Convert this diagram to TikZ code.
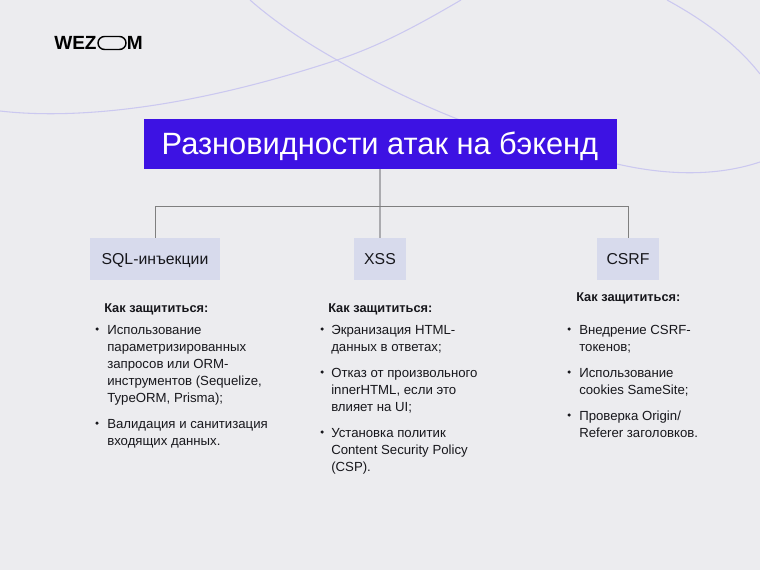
\documentclass[tikz,border=0pt]{standalone}
\usepackage{xcolor}
\usepackage{fontspec}
\setmainfont{Liberation Sans}
\usetikzlibrary{positioning}
\definecolor{bgfill}{HTML}{ECECEF}
\definecolor{titlefill}{HTML}{3D12E3}
\definecolor{boxfill}{HTML}{D7DAEC}
\definecolor{arcline}{HTML}{CBC8F0}
\definecolor{linkline}{HTML}{7F7F7F}
\definecolor{stemline}{HTML}{ABABAF}
\definecolor{inkcol}{HTML}{17171C}
\newlength{\ppx}
\setlength{\ppx}{0.75pt}
\tikzset{
	titlebox/.style={fill=titlefill,text=white,minimum width=473\ppx,minimum height=50\ppx,inner sep=0pt,text height=16.5pt,text depth=0pt,font=\fontsize{23.1}{27}\selectfont},
	kindbox/.style={fill=boxfill,text=inkcol,minimum height=42\ppx,inner sep=0pt,text height=8.5pt,text depth=0pt,font=\fontsize{11.85}{14}\selectfont},
	headtext/.style={text=inkcol,anchor=west,inner sep=0pt,font=\fontsize{9.6}{12}\selectfont\bfseries},
	itemtext/.style={text=inkcol,anchor=north west,inner sep=0pt,align=left,font=\fontsize{9.9}{12.75}\selectfont},
	dotmark/.style={circle,fill=inkcol,inner sep=0pt,minimum size=3.5\ppx},
	logotext/.style={text=black,inner sep=0pt,font=\fontsize{14.3}{15}\selectfont\bfseries},
	arcpath/.style={draw=arcline,line width=0.8pt},
	linkpath/.style={draw=linkline,line width=0.6pt},
	stempath/.style={draw=stemline,line width=1pt}
}
\begin{document}
\begin{tikzpicture}[x=0.75pt,y=-0.75pt]
	\path[fill=bgfill] (0,0) rectangle (760,570);
	\useasboundingbox (0,0) rectangle (760,570);

	\path[arcpath] (0,111) .. controls (60,118) and (170,115) .. (337,60) .. controls (380,46) and (420,24) .. (461,0);
	\path[arcpath] (250,0) .. controls (275,22) and (305,42) .. (337,60) .. controls (395,95) and (500,145) .. (617,164) .. controls (665,175) and (715,177) .. (760,162);
	\path[arcpath] (667,0) .. controls (700,18) and (735,42) .. (760,74);

	% logo
	\node[logotext,anchor=west] (logowez) at (54,43) {WEZ};
	\node[draw=black,line width=1.1pt,rounded corners=6.5\ppx,minimum width=28\ppx,minimum height=13\ppx,inner sep=0pt] (logoring) at (112,43) {};
	\node[logotext,anchor=east] (logom) at (143,43) {M};

	\node[titlebox] (title) at (380,144) {Разновидности атак на бэкенд};
	\node[kindbox,minimum width=130\ppx] (sql) at (155,259) {SQL-инъекции};
	\node[kindbox,minimum width=52\ppx] (xss) at (380,259) {XSS};
	\node[kindbox,minimum width=62\ppx] (csrf) at (628,259) {CSRF};
	\coordinate (fork) at (380,206);

	\path[stempath] (title.south) -- (xss.north);
	\path[linkpath] (sql.north) |- (fork);
	\path[linkpath] (csrf.north) |- (fork);

	% first column
	\node[headtext] (sqlhead) at (104,309) {Как защититься:};
	\node[dotmark] (sqldot1) at (97,329) {};
	\node[itemtext] (sqlitem1) at (107,325) {Использование\\параметризированных\\запросов или ORM-\\инструментов (Sequelize,\\TypeORM, Prisma);};
	\node[dotmark] (sqldot2) at (97,423) {};
	\node[itemtext] (sqlitem2) at (107,419) {Валидация и санитизация\\входящих данных.};

	% second column
	\node[headtext] (xsshead) at (328,309) {Как защититься:};
	\node[dotmark] (xssdot1) at (322,329) {};
	\node[itemtext] (xssitem1) at (331,325) {Экранизация HTML-\\данных в ответах;};
	\node[dotmark] (xssdot2) at (322,372) {};
	\node[itemtext] (xssitem2) at (331,368) {Отказ от произвольного\\innerHTML, если это\\влияет на UI;};
	\node[dotmark] (xssdot3) at (322,432) {};
	\node[itemtext] (xssitem3) at (331,428) {Установка политик\\Content Security Policy\\(CSP).};

	% third column
	\node[headtext] (csrfhead) at (576,298) {Как защититься:};
	\node[dotmark] (csrfdot1) at (569,329) {};
	\node[itemtext] (csrfitem1) at (579,325) {Внедрение CSRF-\\токенов;};
	\node[dotmark] (csrfdot2) at (569,372) {};
	\node[itemtext] (csrfitem2) at (579,368) {Использование\\cookies SameSite;};
	\node[dotmark] (csrfdot3) at (569,415) {};
	\node[itemtext] (csrfitem3) at (579,411) {Проверка Origin/\\Referer заголовков.};
\end{tikzpicture}
\end{document}
